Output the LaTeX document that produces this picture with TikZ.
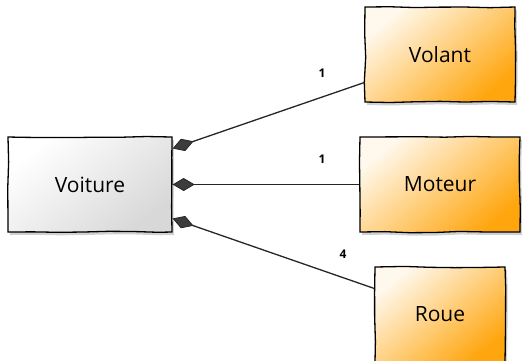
\documentclass[tikz,border=0pt]{standalone}
\usepackage{fontspec}
\setmainfont{Open Sans}
\usetikzlibrary{arrows.meta,shadows,decorations.pathmorphing,calc}
\pgfmathsetseed{7}
\definecolor{boxorange}{HTML}{FFA60F}
\definecolor{boxlight}{HTML}{FFF8EC}
\definecolor{graylow}{HTML}{D8D8D8}
\definecolor{diamondgray}{HTML}{3C3C3C}
\tikzset{
  classbox/.style={draw=black, line width=1.3pt, minimum height=95pt, inner sep=0pt,
    font=\fontsize{21}{24}\selectfont,
    drop shadow={shadow xshift=2pt, shadow yshift=-3pt, opacity=0.18, fill=black},
    decorate, decoration={random steps, segment length=25pt, amplitude=0.7pt}},
  partbox/.style={classbox, shading=axis, top color=boxlight, bottom color=boxorange, shading angle=40},
  mainbox/.style={classbox, shading=axis, top color=white, bottom color=graylow, shading angle=40},
  compo/.style={line width=1.3pt, draw=black!85,
    {Diamond[length=22pt, width=13pt, fill=diamondgray, line width=0.8pt]}-},
  mult/.style={font=\fontsize{12}{13}\selectfont\bfseries}
}
\begin{document}
\begin{tikzpicture}[x=1pt,y=-1pt]
\useasboundingbox (0,0) rectangle (522,360);
\node[mainbox, minimum width=164pt] (voiture) at (90,184.5) {Voiture};
\node[partbox, minimum width=150pt] (volant) at (440,54.5) {Volant};
\node[partbox, minimum width=160pt] (moteur) at (440,184.5) {Moteur};
\node[partbox, minimum width=130pt] (roue) at (440,314.5) {Roue};
\draw[compo] ([yshift=36pt]voiture.east) -- ([yshift=-28pt]volant.west);
\draw[compo] (voiture.east) -- (moteur.west);
\draw[compo] ([yshift=-34pt]voiture.east) -- ([yshift=26pt]roue.west);
\node[mult] (m1) at (322,73) {1};
\node[mult] (m2) at (322,159) {1};
\node[mult] (m3) at (343,254) {4};
\end{tikzpicture}
\end{document}
